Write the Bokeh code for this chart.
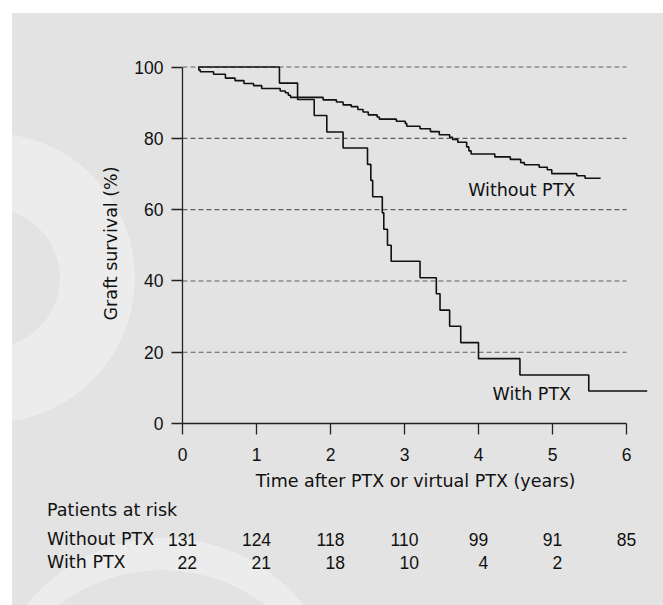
from bokeh.plotting import figure
from bokeh.models import Range1d, Label, ColumnDataSource, GlobalInlineStyleSheet
from bokeh.core.properties import value
from bokeh.embed import file_html
from bokeh.resources import INLINE

# ---------------- data ----------------
years = [0, 1, 2, 3, 4, 5, 6]
survival_ticks = [0, 20, 40, 60, 80, 100]
grid_levels = [20, 40, 60, 80, 100]

without_time = [0.217, 0.22, 0.24, 0.42, 0.58, 0.71, 0.83, 0.96, 1.07, 1.32, 1.39, 1.43,
                1.46, 1.90, 2.08, 2.17, 2.28, 2.37, 2.44, 2.51, 2.63, 2.66, 2.89, 3.01,
                3.03, 3.21, 3.35, 3.47, 3.61, 3.65, 3.72, 3.84, 3.87, 3.90, 4.22, 4.43,
                4.57, 4.62, 4.82, 4.93, 4.99, 5.33, 5.44, 5.65]
without_surv = [100, 99.2, 98.7, 98.0, 96.9, 96.2, 95.4, 94.8, 94.0, 93.3, 92.8, 92.1,
                91.5, 90.8, 90.2, 89.4, 88.9, 88.1, 87.4, 86.6, 86.0, 85.4, 84.8, 84.2,
                83.4, 82.7, 81.9, 81.0, 80.3, 79.7, 78.9, 77.6, 76.5, 75.6, 74.8, 74.1,
                73.2, 72.6, 71.9, 71.2, 70.1, 69.5, 68.8, 68.8]

with_time = [0.217, 1.31, 1.555, 1.78, 1.95, 2.17, 2.50, 2.545, 2.57, 2.70, 2.72, 2.77,
             2.82, 3.21, 3.43, 3.48, 3.61, 3.76, 4.00, 4.56, 5.49, 6.28]
with_surv = [100, 95.5, 90.9, 86.4, 81.8, 77.3, 72.7, 68.2, 63.6, 59.1, 54.5, 50.0,
             45.5, 40.9, 36.4, 31.8, 27.3, 22.7, 18.2, 13.6, 9.1, 9.1]

risk_label = "Patients at risk"
group_names = ["Without PTX", "With PTX"]
at_risk_without = [131, 124, 118, 110, 99, 91, 85]
at_risk_with = [22, 21, 18, 10, 4, 2]

# ---------------- style ----------------
WORD_FONT = "DejaVu Sans"
NUM_FONT = "Liberation Sans"
FS = "17.5px"
INK = "#111111"
DIGIT_W = 9.7  # px width of one digit at FS in NUM_FONT
PX_PER_YEAR = 74.0
AXIS_LEFT = 182          # px from page left to the y axis
W, H_MAIN, H_TABLE = 655, 500, 97

bg_css = """
html {
  background:
    linear-gradient(#ffffff, #ffffff) 0 0 / 100% 13px no-repeat,
    linear-gradient(#ffffff, #ffffff) 0 0 / 12px 100% no-repeat,
    radial-gradient(circle 172px at 162px 742px, #e3e3e3 171.5px, transparent 172px) 0 0 / 100% 100% no-repeat,
    radial-gradient(circle 177px at 165px 715px, #ececec 176.5px, transparent 177px) 0 0 / 100% 100% no-repeat,
    radial-gradient(circle 145px at -10px 278px, transparent 69.5px, #ececec 70px, #ececec 144.5px, transparent 145px) 0 0 / 100% 100% no-repeat,
    #e3e3e3;
  background-attachment: fixed;
}
"""

x_end = (W - 7 - AXIS_LEFT) / PX_PER_YEAR
p = figure(width=W, height=H_MAIN,
           x_range=Range1d(0, x_end), y_range=Range1d(0, 101),
           output_backend="svg", toolbar_location=None,
           min_border_left=AXIS_LEFT, min_border_right=7,
           min_border_top=63, min_border_bottom=H_MAIN - 423,
           background_fill_color=None, border_fill_color=None,
           outline_line_color=None)
p.stylesheets = [GlobalInlineStyleSheet(css=bg_css)]

p.xgrid.visible = False
p.ygrid.visible = False

# dashed reference lines
p.segment(x0=[years[0]] * len(grid_levels), x1=[years[-1]] * len(grid_levels),
          y0=grid_levels, y1=grid_levels,
          line_color="#606060", line_width=1.1, line_dash="5 3")

# Kaplan-Meier curves
p.step(without_time, without_surv, mode="after", line_color=INK, line_width=1.6)
p.step(with_time, with_surv, mode="after", line_color=INK, line_width=1.6)

# curve labels
p.add_layout(Label(x=3.86, y=65.4, text=group_names[0], text_font=WORD_FONT,
                   text_font_size=FS, text_color=INK, text_baseline="middle",
                   text_align="left"))
p.add_layout(Label(x=4.19, y=8.4, text=group_names[1], text_font=WORD_FONT,
                   text_font_size=FS, text_color=INK, text_baseline="middle",
                   text_align="left"))

# axes
for ax in (p.xaxis[0], p.yaxis[0]):
    ax.axis_line_color = "#222222"
    ax.axis_line_width = 1.3
    ax.major_tick_line_color = "#222222"
    ax.major_tick_line_width = 1.3
    ax.major_tick_out = 11
    ax.major_tick_in = 0
    ax.minor_tick_line_color = None
    ax.major_label_text_font = NUM_FONT
    ax.major_label_text_font_size = FS
    ax.major_label_text_color = INK
    ax.axis_label_text_font = WORD_FONT
    ax.axis_label_text_font_size = FS
    ax.axis_label_text_font_style = "normal"
    ax.axis_label_text_color = INK

p.xaxis.ticker = years
p.xaxis.bounds = (years[0], years[-1])
p.xaxis.axis_label = "Time after PTX or virtual PTX (years)"
p.xaxis.major_label_standoff = 13
p.xaxis.axis_label_standoff = 7

p.yaxis.ticker = survival_ticks
p.yaxis.bounds = (survival_ticks[0], survival_ticks[-1])
p.yaxis.axis_label = "Graft survival (%)"
p.yaxis.major_label_standoff = 8
p.yaxis.axis_label_standoff = 10

# ---------------- patients-at-risk table (same x scale, own figure) ----------------
t_start = -AXIS_LEFT / PX_PER_YEAR
t = figure(width=W, height=H_TABLE,
           x_range=Range1d(t_start, t_start + W / PX_PER_YEAR),
           y_range=Range1d(0, H_TABLE),
           output_backend="svg", toolbar_location=None,
           x_axis_type=None, y_axis_type=None,
           min_border=0, background_fill_color=None, border_fill_color=None,
           outline_line_color=None)
t.xgrid.visible = False
t.ygrid.visible = False

TABLE_X = -1.83
Y_HEAD, Y_ROW1, Y_ROW2 = 87.3, 58.4, 35.2
head = ColumnDataSource(dict(x=[TABLE_X] * 3, y=[Y_HEAD, Y_ROW1, Y_ROW2],
                             s=[risk_label] + group_names))
t.text(x="x", y="y", text="s", source=head, text_font=value(WORD_FONT),
       text_font_size=FS, text_color=INK, text_baseline="middle", text_align="left")

src1 = ColumnDataSource(dict(x=years, y=[Y_ROW1] * len(years),
                             s=[str(v) for v in at_risk_without]))
src2 = ColumnDataSource(dict(x=years[:len(at_risk_with)], y=[Y_ROW2] * len(at_risk_with),
                             s=[str(v) for v in at_risk_with],
                             off=[len(str(v)) * DIGIT_W / 2
                                  for v in at_risk_without[:len(at_risk_with)]]))
t.text(x="x", y="y", text="s", source=src1, text_font=value(NUM_FONT),
       text_font_size=FS, text_color=INK, text_baseline="middle", text_align="center")
t.text(x="x", y="y", text="s", source=src2, x_offset="off", text_font=value(NUM_FONT),
       text_font_size=FS, text_color=INK, text_baseline="middle", text_align="right")

open("out.html", "w").write(file_html([p, t], INLINE))
